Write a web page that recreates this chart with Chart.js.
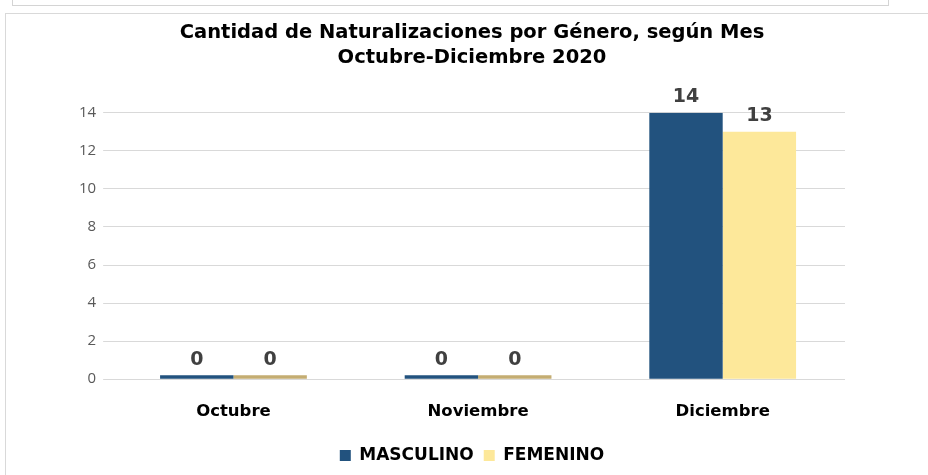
<!DOCTYPE html>
<html lang="es">
<head>
<meta charset="UTF-8">
<title>Naturalizaciones</title>
<script src="https://cdn.jsdelivr.net/npm/chart.js"></script>
<style>
  body { margin: 0; background: #fff; overflow: hidden; }
  .tapa { position: absolute; left: 12px; top: -2px; width: 875px; height: 6px; border: 1px solid #d4d4d4; }
  .marco { position: absolute; left: 5px; top: 13px; width: 940px; height: 470px; border: 1px solid #d9d9d9; }
  .caja { position: absolute; left: 0; top: 0; width: 922px; height: 461px; }
</style>
</head>
<body>
<div class="tapa"></div>
<div class="marco">
  <div class="caja"><canvas id="grafico"></canvas></div>
</div>

<script>
  // datos del grafico
  const meses = ['Octubre', 'Noviembre', 'Diciembre'];
  const masculino = [0, 0, 14];
  const femenino = [0, 0, 13];
  const ticksY = [0, 2, 4, 6, 8, 10, 12, 14];

  const azul = '#22527e';
  const amarillo = '#fde89a';

  // etiquetas encima de cada barra
  const etiquetas = {
    id: 'etiquetas',
    afterDatasetsDraw(chart) {
      const ctx = chart.ctx;
      ctx.save();
      ctx.font = 'bold 19px "DejaVu Sans"';
      ctx.fillStyle = '#404040';
      ctx.textAlign = 'center';
      ctx.textBaseline = 'bottom';
      chart.data.datasets.forEach((ds, i) => {
        chart.getDatasetMeta(i).data.forEach((bar, j) => {
          ctx.fillText(ds.data[j], bar.x, bar.y - 6);
        });
      });
      ctx.restore();
    }
  };

  new Chart(document.getElementById('grafico'), {
    type: 'bar',
    data: {
      labels: meses,
      datasets: [{
        label: 'MASCULINO',
        data: masculino,
        backgroundColor: azul,
        minBarLength: 4
      }, {
        label: 'FEMENINO',
        data: femenino,
        // la barra en cero se ve mas oscura, como la tapa en el original
        backgroundColor: (c) => c.raw === 0 ? '#c4ad72' : amarillo,
        minBarLength: 4
      }]
    },
    options: {
      responsive: true,
      maintainAspectRatio: false,
      animation: false,
      layout: { padding: { left: 66, right: 56, top: 0, bottom: 1 } },
      datasets: { bar: { categoryPercentage: 0.6, barPercentage: 1 } },
      plugins: {
        title: {
          display: true,
          text: ['Cantidad de Naturalizaciones por Género, según Mes', 'Octubre-Diciembre 2020'],
          color: '#000',
          font: { family: 'DejaVu Sans', size: 19.5, weight: 'bold', lineHeight: 1.25 },
          padding: { top: 7, bottom: 43 }
        },
        legend: {
          position: 'bottom',
          labels: {
            color: '#000',
            font: { family: 'DejaVu Sans', size: 17, weight: 'bold' },
            boxWidth: 11,
            boxHeight: 11,
            padding: 10,
            generateLabels: (chart) => {
              const items = Chart.defaults.plugins.legend.labels.generateLabels(chart);
              const colores = [azul, amarillo];
              items.forEach((it, i) => { it.fillStyle = colores[i]; it.strokeStyle = colores[i]; it.lineWidth = 0; });
              return items;
            }
          }
        },
        tooltip: { enabled: false }
      },
      scales: {
        x: {
          grid: { display: false },
          border: { display: false },
          ticks: { color: '#000', font: { family: 'DejaVu Sans', size: 16.5, weight: 'bold' }, padding: 15 }
        },
        y: {
          min: 0,
          max: 14,
          afterBuildTicks: (s) => { s.ticks = ticksY.map(v => ({ value: v })); },
          grid: { color: '#d9d9d9' },
          border: { display: false },
          ticks: { color: '#595959', font: { family: 'Open Sans', size: 15 }, padding: 7 }
        },
        // eje vacio a la derecha, solo para dejar margen
        margen: {
          type: 'linear',
          position: 'right',
          grid: { display: false },
          border: { display: false },
          ticks: { display: false },
          afterFit: (s) => { s.width = 27; }
        }
      }
    },
    plugins: [etiquetas]
  });
</script>
</body>
</html>
